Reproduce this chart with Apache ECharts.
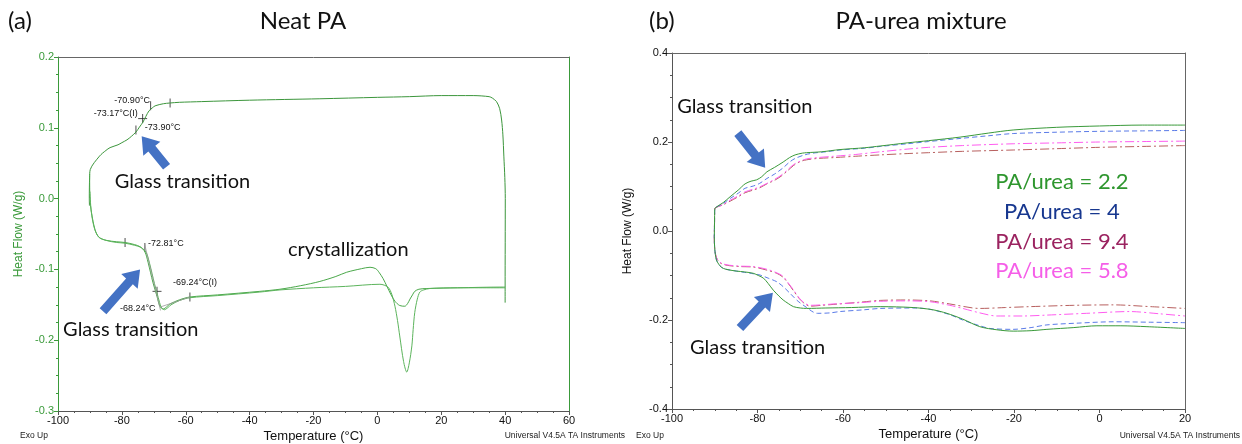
<!DOCTYPE html>
<html>
<head>
<meta charset="utf-8">
<script src="https://cdn.jsdelivr.net/npm/echarts@6/dist/echarts.min.js"></script>
<style>
  html, body { margin: 0; padding: 0; background: #fff; }
  #chart { width: 1242px; height: 444px; }
</style>
</head>
<body>
<div id="chart"></div>
<script>
// ---------- Neat PA (DSC, heat flow vs temperature) ----------
// cooling scan, 40 °C down to -90 °C
const neatCooling = [
  [40, -0.147], [40, -0.125], [40.05, 0.0], [39.9, 0.03], [39.6, 0.060], [39.3, 0.090],
  [38.9, 0.111], [38.3, 0.127], [37.3, 0.137], [36, 0.142], [35, 0.144], [30, 0.1455],
  [20, 0.1455], [10, 0.144], [0, 0.143], [-18, 0.141], [-40, 0.139], [-55, 0.137],
  [-62, 0.136], [-65, 0.135], [-67, 0.134], [-69.6, 0.131], [-70.5, 0.128], [-71.5, 0.124],
  [-72.5, 0.116], [-73.4, 0.108], [-74.5, 0.101], [-75.6, 0.094], [-77, 0.088],
  [-78.4, 0.083], [-80, 0.079], [-81.2, 0.076], [-83.7, 0.072], [-85, 0.068],
  [-87, 0.060], [-89.9, 0.041], [-90.1, 0.030], [-90.2, 0.000], [-90.15, -0.010]
];
// heating scan with cold crystallization hump
const neatHeatingA = [
  [-90.1, 0.035], [-90.0, 0.0], [-89.5, -0.020], [-88.4, -0.044], [-87.1, -0.055],
  [-84.8, -0.059], [-81.6, -0.061], [-79, -0.062], [-76, -0.065], [-74.3, -0.068],
  [-72.8, -0.075], [-71.8, -0.090], [-70.3, -0.118], [-69, -0.138], [-68.1, -0.152],
  [-67.1, -0.156], [-66, -0.153], [-65, -0.149], [-62, -0.143], [-58.7, -0.139],
  [-50, -0.136], [-36.8, -0.131], [-30.5, -0.128], [-24, -0.123], [-18, -0.117],
  [-13, -0.110], [-9.6, -0.104], [-5, -0.099], [-2.3, -0.097], [-0.5, -0.099],
  [0.5, -0.104], [1.8, -0.113], [3, -0.124], [4.3, -0.136], [5.5, -0.145], [7, -0.151],
  [8.6, -0.152], [9.5, -0.148], [10.2, -0.142], [11, -0.136], [11.7, -0.131],
  [13, -0.128], [15.5, -0.127], [25, -0.126], [39.3, -0.125], [40, -0.125]
];
// heating scan with the deep melting dip
const neatHeatingB = [
  [-90.0, 0.010], [-89.6, -0.018], [-88.6, -0.042], [-87.3, -0.054], [-85, -0.059],
  [-81.6, -0.062], [-79, -0.063], [-76, -0.066], [-74, -0.069], [-72.4, -0.076],
  [-71.3, -0.092], [-69.8, -0.120], [-68.6, -0.140], [-67.7, -0.153], [-66.7, -0.157],
  [-65.6, -0.154], [-64.6, -0.150], [-62, -0.144], [-58.7, -0.140], [-50, -0.137],
  [-36.8, -0.132], [-30.5, -0.129], [-20, -0.126], [-10, -0.124], [0.8, -0.121],
  [3.3, -0.125], [4.5, -0.135], [5.5, -0.152], [6.3, -0.172], [7, -0.194], [8.2, -0.230],
  [9.2, -0.245], [10, -0.232], [10.8, -0.208], [11.2, -0.185], [11.7, -0.161],
  [12.5, -0.142], [13.3, -0.132], [14.5, -0.129], [16.4, -0.127], [25, -0.126], [40, -0.126]
];
// analysis markers (onset / end points and inflection crosses)
const tgTicks = [[-75.6, 0.097], [-71.0, 0.131], [-64.9, 0.135], [-79.0, -0.062], [-72.8, -0.069], [-58.7, -0.139]];
const tgCrosses = [[-73.5, 0.113], [-69.0, -0.131]];
const tgTangents = [
  [[-72.9, -0.064], [-67.9, -0.158]],
  [[-67.9, -0.153], [-58.7, -0.139]]
];

// ---------- PA-urea mixtures ----------
const ratioLabels = ['PA/urea = 2.2', 'PA/urea = 4', 'PA/urea = 9.4', 'PA/urea = 5.8'];
const cool22 = [[20, 0.238], [10, 0.238], [0, 0.236], [-10, 0.233], [-20.2, 0.227], [-26, 0.220], [-32.6, 0.211], [-40, 0.203], [-45, 0.198], [-51.3, 0.191], [-55, 0.187], [-60.7, 0.183], [-65, 0.178], [-68.5, 0.176], [-69.5, 0.175], [-71.2, 0.171], [-72.5, 0.165], [-74, 0.155], [-76, 0.143], [-77.8, 0.133], [-79, 0.122], [-80.2, 0.115], [-81.5, 0.112], [-82.9, 0.106], [-84.5, 0.092], [-86.4, 0.077], [-88, 0.064], [-89.9, 0.052], [-90, 0.049]];
const heat22 = [[-90.05, 0.02], [-90.1, -0.013], [-90.0, -0.040], [-89.6, -0.065], [-88.8, -0.078], [-88, -0.084], [-86.9, -0.087], [-85, -0.090], [-83, -0.092], [-81, -0.095], [-79.8, -0.100], [-78.6, -0.106], [-77.5, -0.118], [-76.3, -0.133], [-75, -0.146], [-74, -0.155], [-72.8, -0.163], [-71.6, -0.170], [-70, -0.173], [-68.5, -0.174], [-64, -0.173], [-58, -0.172], [-51.3, -0.170], [-43.6, -0.172], [-39, -0.177], [-35.7, -0.185], [-32, -0.198], [-28, -0.215], [-24, -0.222], [-20.2, -0.225], [-16, -0.224], [-12.3, -0.221], [-6, -0.217], [-0.6, -0.213], [5, -0.213], [11.1, -0.215], [20, -0.219]];
const cool4 = [[20, 0.226], [10, 0.225], [0, 0.224], [-10, 0.222], [-20.2, 0.219], [-26, 0.214], [-32.6, 0.208], [-40, 0.201], [-45, 0.196], [-51.3, 0.190], [-55, 0.186], [-60.7, 0.182], [-64, 0.178], [-67, 0.175], [-69, 0.171], [-71.2, 0.163], [-72.5, 0.155], [-74, 0.142], [-76, 0.128], [-77.8, 0.118], [-79.5, 0.107], [-81, 0.101], [-82.9, 0.096], [-84.5, 0.085], [-86.4, 0.073], [-88, 0.062], [-90, 0.049]];
const heat4 = [[-90.05, 0.02], [-90.1, -0.013], [-90.0, -0.040], [-89.6, -0.065], [-88.8, -0.078], [-88, -0.084], [-86.9, -0.087], [-85, -0.090], [-83, -0.093], [-81, -0.096], [-79.4, -0.099], [-77.5, -0.106], [-75.5, -0.114], [-74, -0.125], [-72.4, -0.140], [-70.5, -0.158], [-68.5, -0.172], [-67, -0.182], [-66, -0.185], [-63, -0.184], [-60.7, -0.181], [-55, -0.177], [-51.3, -0.174], [-43, -0.173], [-39.6, -0.176], [-35, -0.188], [-32, -0.200], [-28, -0.213], [-25.6, -0.219], [-20.2, -0.221], [-16, -0.217], [-12.3, -0.211], [-5, -0.207], [3.2, -0.204], [12, -0.205], [20, -0.206]];
const cool94 = [[20, 0.192], [10, 0.190], [0, 0.188], [-10, 0.185], [-20.2, 0.182], [-32, 0.179], [-40, 0.176], [-45, 0.174], [-51.3, 0.171], [-57, 0.168], [-62, 0.165], [-66, 0.163], [-68.5, 0.160], [-70, 0.156], [-71.6, 0.147], [-73, 0.135], [-74.5, 0.123], [-76, 0.114], [-77.8, 0.106], [-79.5, 0.097], [-81, 0.092], [-82.9, 0.086], [-84.5, 0.077], [-86.4, 0.067], [-88, 0.059], [-90, 0.049]];
const heat94 = [[-90.05, 0.02], [-90.1, -0.013], [-90.0, -0.040], [-89.6, -0.060], [-88.8, -0.071], [-88, -0.075], [-86.5, -0.078], [-84, -0.080], [-81, -0.081], [-77.8, -0.088], [-75.5, -0.095], [-74, -0.104], [-72.8, -0.118], [-71.6, -0.134], [-70.3, -0.151], [-69, -0.163], [-67.7, -0.169], [-65, -0.167], [-62.3, -0.165], [-56, -0.160], [-51.3, -0.156], [-45, -0.155], [-39.6, -0.157], [-35, -0.164], [-28, -0.174], [-22, -0.172], [-16.3, -0.170], [-6, -0.167], [3.2, -0.166], [12, -0.170], [20, -0.174]];
const cool58 = [[20, 0.202], [10, 0.201], [0, 0.200], [-10, 0.198], [-20.2, 0.196], [-32, 0.192], [-40, 0.188], [-45, 0.184], [-51.3, 0.178], [-57, 0.172], [-62, 0.168], [-66, 0.165], [-68.5, 0.162], [-70, 0.157], [-71.6, 0.149], [-73, 0.137], [-74.5, 0.125], [-76, 0.116], [-77.8, 0.107], [-79.5, 0.099], [-81, 0.094], [-82.9, 0.088], [-84.5, 0.079], [-86.4, 0.069], [-88, 0.060], [-90, 0.049]];
const heat58 = [[-90.05, 0.02], [-90.1, -0.013], [-90.0, -0.040], [-89.6, -0.060], [-88.8, -0.070], [-88, -0.074], [-86.5, -0.077], [-84, -0.079], [-81, -0.080], [-77.8, -0.086], [-75.5, -0.094], [-74, -0.102], [-72.8, -0.117], [-71.6, -0.132], [-70.3, -0.150], [-69, -0.162], [-67.7, -0.167], [-65, -0.166], [-62.3, -0.164], [-56, -0.161], [-51.3, -0.158], [-45, -0.157], [-39.6, -0.159], [-35, -0.167], [-32, -0.174], [-28, -0.184], [-24, -0.191], [-18, -0.191], [-12.3, -0.189], [-3, -0.185], [7.1, -0.181], [14, -0.186], [20, -0.191]];

// ---------- styling ----------
const GREEN = '#3a9a3a';
const AXIS_DARK = '#555';
const TICK_FONT = "'Liberation Sans', Arial, sans-serif";
const TEXT_FONT = "Lato, 'Open Sans', sans-serif";
const ARROW = '#4472c4';

const chart = echarts.init(document.getElementById('chart'), null, { renderer: 'canvas' });

function xAxisDef(grid, min, max, lineColor) {
  return {
    type: 'value', gridIndex: grid, min: min, max: max, interval: 20,
    name: 'Temperature (°C)', nameLocation: 'middle', nameGap: 19, nameMoveOverlap: false,
    nameTextStyle: { fontFamily: TICK_FONT, fontSize: 13, color: '#111' },
    axisLine: { onZero: false, lineStyle: { color: lineColor, width: 1 } },
    axisTick: { length: 4, lineStyle: { color: lineColor } },
    minorTick: { show: true, splitNumber: 4, length: 2, lineStyle: { color: lineColor } },
    axisLabel: { fontFamily: TICK_FONT, fontSize: 11, color: '#111', margin: 4 },
    splitLine: { show: false }
  };
}
function frameAxis(grid, pos, min, max, color) {
  return {
    type: 'value', gridIndex: grid, position: pos, min: min, max: max,
    axisLine: { onZero: false, lineStyle: { color: color, width: 1 } },
    axisTick: { show: false }, axisLabel: { show: false }, splitLine: { show: false }
  };
}

function loop(cool, heat) { return cool.concat(heat); }

const option = {
  animation: false,
  backgroundColor: '#fff',
  grid: [
    { left: 58, top: 57, width: 511, height: 354, containLabel: false, outerBoundsMode: 'none' },
    { left: 672, top: 53, width: 513, height: 356, containLabel: false, outerBoundsMode: 'none' }
  ],
  xAxis: [
    xAxisDef(0, -100, 60, AXIS_DARK),
    xAxisDef(1, -100, 20, AXIS_DARK),
    frameAxis(0, 'top', -100, 60, '#666'),
    frameAxis(1, 'top', -100, 20, '#666')
  ],
  yAxis: [
    {
      type: 'value', gridIndex: 0, min: -0.3, max: 0.2, interval: 0.1,
      name: 'Heat Flow (W/g)', nameLocation: 'middle', nameGap: 33, nameMoveOverlap: false,
      nameTextStyle: { fontFamily: TICK_FONT, fontSize: 12, color: GREEN },
      axisLine: { onZero: false, lineStyle: { color: GREEN } },
      axisTick: { length: 4, lineStyle: { color: GREEN } },
      minorTick: { show: true, splitNumber: 4, length: 2, lineStyle: { color: GREEN } },
      axisLabel: { fontFamily: TICK_FONT, fontSize: 11, color: GREEN, margin: 4, formatter: v => v.toFixed(1) },
      splitLine: { show: false }
    },
    {
      type: 'value', gridIndex: 1, min: -0.4, max: 0.4, interval: 0.2,
      name: 'Heat Flow (W/g)', nameLocation: 'middle', nameGap: 38, nameMoveOverlap: false,
      nameTextStyle: { fontFamily: TICK_FONT, fontSize: 12, color: '#111' },
      axisLine: { onZero: false, lineStyle: { color: AXIS_DARK } },
      axisTick: { length: 4, lineStyle: { color: AXIS_DARK } },
      minorTick: { show: true, splitNumber: 4, length: 2, lineStyle: { color: AXIS_DARK } },
      axisLabel: { fontFamily: TICK_FONT, fontSize: 11, color: '#111', margin: 4, formatter: v => v.toFixed(1) },
      splitLine: { show: false }
    },
    frameAxis(0, 'right', -0.3, 0.2, GREEN),
    frameAxis(1, 'right', -0.4, 0.4, '#666')
  ],
  series: [
    { type: 'line', xAxisIndex: 0, yAxisIndex: 0, data: neatCooling, showSymbol: false, smooth: 0.3, lineStyle: { color: '#3c963c', width: 1 } },
    { type: 'line', xAxisIndex: 0, yAxisIndex: 0, data: neatHeatingA, showSymbol: false, smooth: 0.3, lineStyle: { color: '#4aa84a', width: 1 } },
    { type: 'line', xAxisIndex: 0, yAxisIndex: 0, data: neatHeatingB, showSymbol: false, smooth: 0.3, lineStyle: { color: '#5cb45c', width: 1 } },
    ...tgTangents.map(seg => ({ type: 'line', xAxisIndex: 0, yAxisIndex: 0, data: seg, showSymbol: false, lineStyle: { color: '#999', width: 0.8 } })),
    { type: 'scatter', xAxisIndex: 0, yAxisIndex: 0, data: tgTicks, symbol: 'rect', symbolSize: [1, 9], itemStyle: { color: '#222' } },
    { type: 'scatter', xAxisIndex: 0, yAxisIndex: 0, data: tgCrosses, symbol: 'rect', symbolSize: [1, 9], itemStyle: { color: '#222' } },
    { type: 'scatter', xAxisIndex: 0, yAxisIndex: 0, data: tgCrosses, symbol: 'rect', symbolSize: [9, 1], itemStyle: { color: '#222' } },

    { name: ratioLabels[2], type: 'line', xAxisIndex: 1, yAxisIndex: 1, data: loop(cool94, heat94), showSymbol: false, smooth: 0.3, lineStyle: { color: '#b8605f', width: 1, type: [9, 3, 2, 3] } },
    { name: ratioLabels[3], type: 'line', xAxisIndex: 1, yAxisIndex: 1, data: loop(cool58, heat58), showSymbol: false, smooth: 0.3, lineStyle: { color: '#ff5cf0', width: 1, type: [9, 3, 2, 3] } },
    { name: ratioLabels[1], type: 'line', xAxisIndex: 1, yAxisIndex: 1, data: loop(cool4, heat4), showSymbol: false, smooth: 0.3, lineStyle: { color: '#5a7be8', width: 1, type: [5, 3] } },
    { name: ratioLabels[0], type: 'line', xAxisIndex: 1, yAxisIndex: 1, data: loop(cool22, heat22), showSymbol: false, smooth: 0.3, lineStyle: { color: '#3a9a3a', width: 1 } }
  ]
};
chart.setOption(option);

// ---------- annotations placed in data coordinates ----------
const smallNotes = [
  { text: '-70.90°C', at: [-71.2, 0.139], align: 'right' },
  { text: '-73.17°C(I)', at: [-75.0, 0.120], align: 'right' },
  { text: '-73.90°C', at: [-72.8, 0.100], align: 'left' },
  { text: '-72.81°C', at: [-71.8, -0.063], align: 'left' },
  { text: '-69.24°C(I)', at: [-64.0, -0.118], align: 'left' },
  { text: '-68.24°C', at: [-80.6, -0.155], align: 'left' }
];
const bigNotes = [
  { grid: 0, text: 'Glass transition', at: [-82.2, 0.024] },
  { grid: 0, text: 'Glass transition', at: [-98.4, -0.185] },
  { grid: 0, text: 'crystallization', at: [-28.0, -0.072] },
  { grid: 1, text: 'Glass transition', at: [-98.8, 0.279] },
  { grid: 1, text: 'Glass transition', at: [-95.8, -0.261] }
];
const arrows = [
  { grid: 0, from: [-66.0, 0.045], to: [-73.8, 0.088] },
  { grid: 0, from: [-85.9, -0.159], to: [-74.3, -0.100] },
  { grid: 1, from: [-84.6, 0.220], to: [-78.2, 0.142] },
  { grid: 1, from: [-84.1, -0.218], to: [-76.4, -0.139] }
];
const legendColors = ['#2e962e', '#17378f', '#9b2360', '#f55ee8'];
const legendAt = [[-8.8, 0.111], [-8.8, 0.043], [-8.8, -0.024], [-8.8, -0.089]];

function px(grid, p) { return chart.convertToPixel({ gridIndex: grid }, p); }

function arrowShape(a, b) {
  const dx = b[0] - a[0], dy = b[1] - a[1];
  const len = Math.hypot(dx, dy);
  const ux = dx / len, uy = dy / len, nx = -uy, ny = ux;
  const shaft = 4.5, head = 11, headLen = 16;
  const nk = [b[0] - ux * headLen, b[1] - uy * headLen];
  return [
    [a[0] + nx * shaft, a[1] + ny * shaft],
    [nk[0] + nx * shaft, nk[1] + ny * shaft],
    [nk[0] + nx * head, nk[1] + ny * head],
    [b[0], b[1]],
    [nk[0] - nx * head, nk[1] - ny * head],
    [nk[0] - nx * shaft, nk[1] - ny * shaft],
    [a[0] - nx * shaft, a[1] - ny * shaft]
  ];
}

const graphics = [];
// panel titles and instrument footers
const titleStyle = { fontFamily: TEXT_FONT, fontSize: 24, fill: '#111' };
graphics.push({ type: 'text', x: 8, y: 21, style: Object.assign({ text: '(a)', textVerticalAlign: 'middle' }, titleStyle) });
graphics.push({ type: 'text', x: 303, y: 21, style: Object.assign({ text: 'Neat PA', textAlign: 'center', textVerticalAlign: 'middle' }, titleStyle) });
graphics.push({ type: 'text', x: 649, y: 21, style: Object.assign({ text: '(b)', textVerticalAlign: 'middle' }, titleStyle) });
graphics.push({ type: 'text', x: 921, y: 21, style: Object.assign({ text: 'PA-urea mixture', textAlign: 'center', textVerticalAlign: 'middle' }, titleStyle) });
const footStyle = { fontFamily: TICK_FONT, fontSize: 8.5, fill: '#222' };
graphics.push({ type: 'text', x: 20, y: 436, style: Object.assign({ text: 'Exo Up', textVerticalAlign: 'middle' }, footStyle) });
graphics.push({ type: 'text', x: 625, y: 436, style: Object.assign({ text: 'Universal V4.5A TA Instruments', textAlign: 'right', textVerticalAlign: 'middle' }, footStyle) });
graphics.push({ type: 'text', x: 636, y: 436, style: Object.assign({ text: 'Exo Up', textVerticalAlign: 'middle' }, footStyle) });
graphics.push({ type: 'text', x: 1240, y: 436, style: Object.assign({ text: 'Universal V4.5A TA Instruments', textAlign: 'right', textVerticalAlign: 'middle' }, footStyle) });

smallNotes.forEach(n => {
  const p = px(0, n.at);
  graphics.push({ type: 'text', x: p[0], y: p[1], z: 20, style: { text: n.text, textAlign: n.align, textVerticalAlign: 'middle', fontFamily: TICK_FONT, fontSize: 9, fill: '#111' } });
});
bigNotes.forEach(n => {
  const p = px(n.grid, n.at);
  graphics.push({ type: 'text', x: p[0], y: p[1], z: 20, style: { text: n.text, textAlign: 'left', textVerticalAlign: 'middle', fontFamily: TEXT_FONT, fontSize: 20, fill: '#111' } });
});
arrows.forEach(a => {
  const pts = arrowShape(px(a.grid, a.from), px(a.grid, a.to));
  graphics.push({ type: 'polygon', z: 20, shape: { points: pts }, style: { fill: ARROW, stroke: null } });
});
ratioLabels.forEach((t, i) => {
  const p = px(1, legendAt[i]);
  graphics.push({ type: 'text', x: p[0], y: p[1], z: 20, style: { text: t, textAlign: 'center', textVerticalAlign: 'middle', fontFamily: TEXT_FONT, fontSize: 22, fill: legendColors[i] } });
});
chart.setOption({ graphic: graphics });
</script>
</body>
</html>
